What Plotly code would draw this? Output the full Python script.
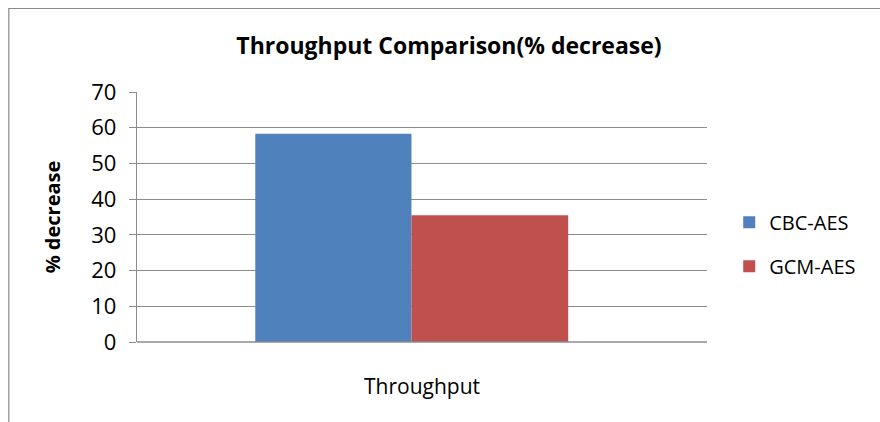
import plotly.graph_objects as go

# Throughput decrease (%) per cipher mode
categories = ["Throughput"]
series_names = ["CBC-AES", "GCM-AES"]
cbc_aes = [58.3]
gcm_aes = [35.5]
y_ticks = [0, 10, 20, 30, 40, 50, 60, 70]

colors = ["#4F81BD", "#C0504D"]
FONT = "'Open Sans', sans-serif"

fig = go.Figure()
fig.add_trace(go.Bar(
    x=categories, y=cbc_aes, name=series_names[0],
    marker=dict(color=colors[0], line=dict(width=0)),
    offset=-0.2925, width=0.274, legendgroup="a",
))
fig.add_trace(go.Bar(
    x=categories, y=gcm_aes, name=series_names[1],
    marker=dict(color=colors[1], line=dict(width=0)),
    offset=-0.0185, width=0.275, legendgroup="b",
))

fig.update_layout(
    width=880, height=422,
    margin=dict(l=137, r=173, t=92, b=80),
    paper_bgcolor="white", plot_bgcolor="white",
    font=dict(family=FONT, size=20, color="#000000"),
    title=dict(
        text="<b>Throughput Comparison(% decrease)</b>",
        x=449 / 880, xanchor="center",
        y=1 - 46 / 422, yanchor="middle",
        font=dict(family=FONT, size=23, color="#000000"),
    ),
    barmode="group",
    showlegend=True,
    legend=dict(
        x=1.039, xanchor="left", y=0.557, yanchor="top",
        font=dict(family=FONT, size=20, color="#000000"),
        traceorder="grouped", tracegroupgap=15,
        bgcolor="rgba(0,0,0,0)",
    ),
    xaxis=dict(
        range=[-0.5, 0.5],
        showgrid=False, showline=False, zeroline=False,
        ticks="", ticklabelstandoff=30,
        tickfont=dict(family=FONT, size=21),
    ),
    yaxis=dict(
        range=[0, 70], tickvals=y_ticks,
        showgrid=True, gridcolor="#8C8C8C", gridwidth=1.3,
        showline=True, linecolor="#8C8C8C", linewidth=1.3,
        zeroline=False,
        ticks="outside", ticklen=7, tickcolor="#8C8C8C", tickwidth=1.3,
        ticklabelstandoff=8,
        tickfont=dict(family=FONT, size=22),
        title=dict(text="<b>% decrease</b>", standoff=25,
                   font=dict(family=FONT, size=20)),
    ),
    shapes=[
        # bottom axis line across the plot
        dict(type="line", xref="paper", yref="paper", x0=0, x1=1, y0=0, y1=0,
             line=dict(color="#8C8C8C", width=1.3)),
        # chart frame
        dict(type="rect", xref="paper", yref="paper",
             x0=-0.2249, x1=1.6, y0=-0.6, y1=1.334,
             line=dict(color="#8A8A8A", width=1.2), fillcolor="rgba(0,0,0,0)"),
    ],
)

fig.write_html("out.html")
